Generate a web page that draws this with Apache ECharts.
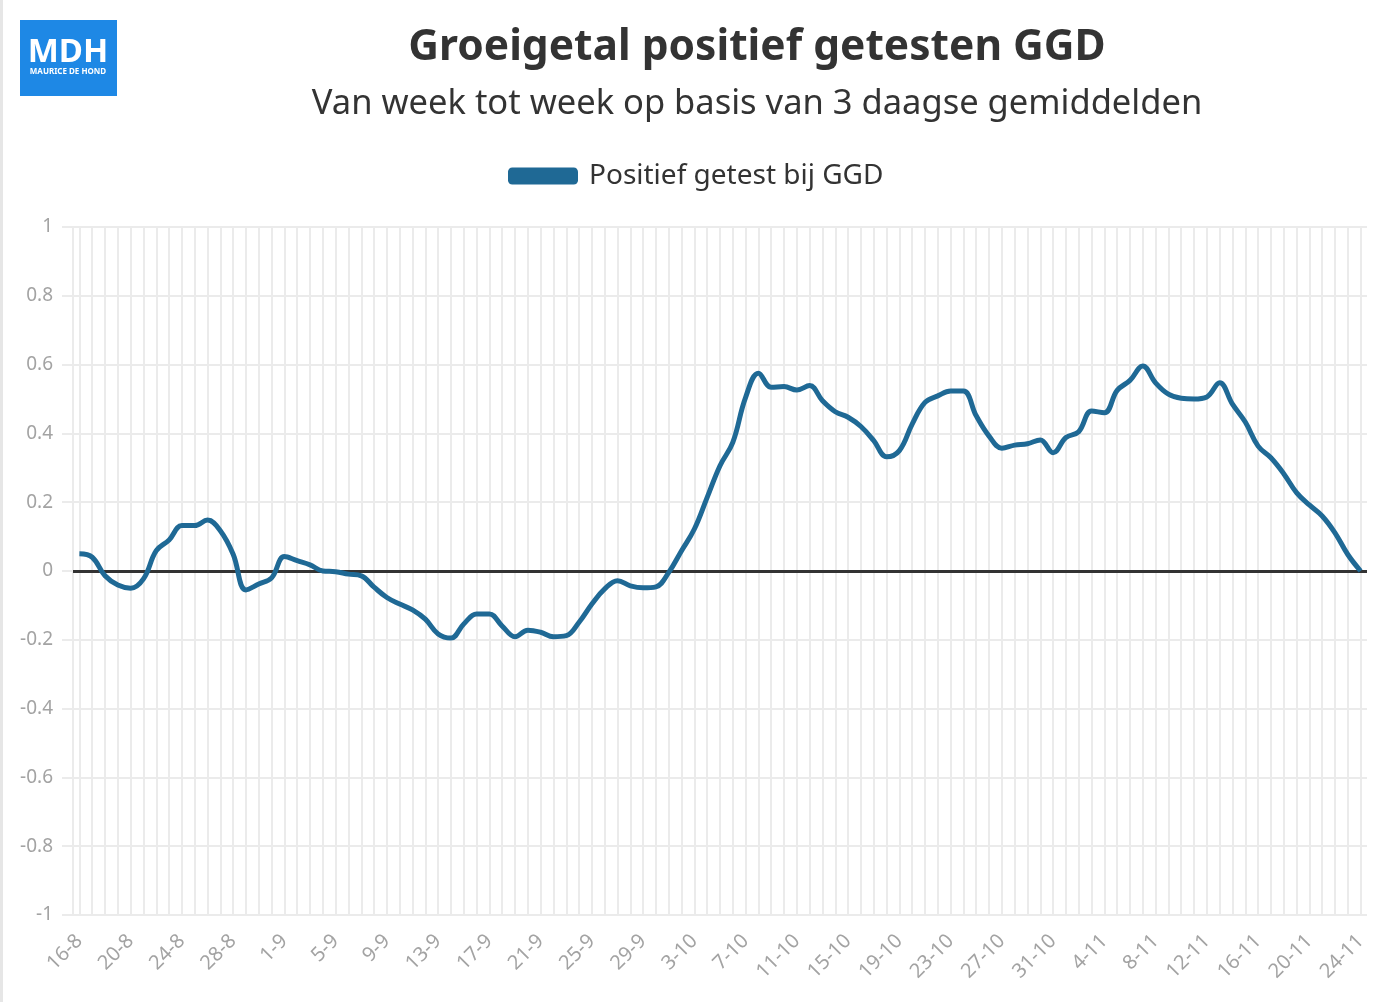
<!DOCTYPE html>
<html>
<head>
<meta charset="utf-8">
<script src="https://cdn.jsdelivr.net/npm/echarts@6/dist/echarts.min.js"></script>
<style>
  html, body { margin: 0; padding: 0; background: #fff; }
  #main { width: 1400px; height: 1002px; }
</style>
</head>
<body>
<div id="main"></div>
<script>
var days = [
  '16-8','17-8','18-8','19-8','20-8','21-8','22-8','23-8','24-8','25-8','26-8','27-8','28-8','29-8','30-8','31-8',
  '1-9','2-9','3-9','4-9','5-9','6-9','7-9','8-9','9-9','10-9','11-9','12-9','13-9','14-9','15-9','16-9','17-9','18-9','19-9','20-9',
  '21-9','22-9','23-9','24-9','25-9','26-9','27-9','28-9','29-9','30-9',
  '1-10','2-10','3-10','4-10','5-10','6-10','7-10','8-10','9-10','10-10','11-10','12-10','13-10','14-10','15-10','16-10',
  '17-10','18-10','19-10','20-10','21-10','22-10','23-10','24-10','25-10','26-10','27-10','28-10','29-10','30-10','31-10',
  '1-11','2-11','3-11','4-11','5-11','6-11','7-11','8-11','9-11','10-11','11-11','12-11','13-11','14-11','15-11','16-11',
  '17-11','18-11','19-11','20-11','21-11','22-11','23-11','24-11'
];

var groeigetal = [
  0.05, 0.04, -0.014, -0.041, -0.05, -0.023, 0.059, 0.09, 0.132, 0.132,
  0.148, 0.117, 0.049, -0.055, -0.038, -0.02, 0.042, 0.03, 0.018, 0.0,
  -0.002, -0.009, -0.014, -0.047, -0.077, -0.096, -0.113, -0.14, -0.183, -0.195,
  -0.154, -0.125, -0.125, -0.16, -0.191, -0.172, -0.178, -0.191, -0.188, -0.149,
  -0.096, -0.052, -0.028, -0.043, -0.049, -0.046, -0.004, 0.059, 0.122, 0.214,
  0.306, 0.374, 0.505, 0.575, 0.534, 0.536, 0.526, 0.539, 0.495, 0.463,
  0.447, 0.42, 0.379, 0.332, 0.35, 0.427, 0.49, 0.509, 0.523, 0.523,
  0.451, 0.392, 0.357, 0.366, 0.37, 0.381, 0.344, 0.388, 0.405, 0.465,
  0.46, 0.525, 0.554, 0.596, 0.547, 0.514, 0.502, 0.5, 0.506, 0.547,
  0.485, 0.433, 0.363, 0.329, 0.283, 0.228, 0.192, 0.16, 0.111, 0.048,
  0.0
];

var seriesName = 'Positief getest bij GGD';
var lineColor = '#1f6995';
var gridColor = '#ebebeb';
var labelColor = '#a3a3a3';
var font = 'Noto Sans';

var myChart = echarts.init(document.getElementById('main'));
var option = {
  backgroundColor: '#ffffff',
  animation: false,
  textStyle: { fontFamily: font },

  title: [{
    text: 'Groeigetal positief getesten GGD',
    left: 757,
    top: 26,
    padding: 0,
    textAlign: 'center',
    textStyle: { fontFamily: font, fontSize: 42.5, fontWeight: 'bold', color: '#333333' }
  }, {
    text: 'Van week tot week op basis van 3 daagse gemiddelden',
    left: 757,
    top: 87,
    padding: 0,
    textAlign: 'center',
    textStyle: { fontFamily: font, fontSize: 34.5, fontWeight: 'normal', color: '#333333' }
  }],

  legend: {
    left: 508,
    top: 162,
    padding: 0,
    icon: 'roundRect',
    itemWidth: 70,
    itemHeight: 17,
    textStyle: { fontFamily: font, fontSize: 28, color: '#333333', padding: [0, 0, 0, 6] },
    data: [seriesName]
  },

  graphic: [
    { type: 'rect', shape: { x: 0, y: 0, width: 3, height: 1002 }, style: { fill: '#e6e6e6' }, silent: true },
    { type: 'rect', shape: { x: 20, y: 20, width: 97, height: 76 }, style: { fill: '#1e88e5' }, silent: true },
    { type: 'text', x: 68, y: 53, style: { text: 'MDH', fill: '#ffffff', font: 'bold 33px "Noto Sans"', align: 'center', verticalAlign: 'middle' }, silent: true },
    { type: 'text', x: 68, y: 72, style: { text: 'MAURICE DE HOND', fill: '#ffffff', font: 'bold 8px "Noto Sans"', align: 'center', verticalAlign: 'middle' }, silent: true }
  ],

  grid: {
    left: 73,
    right: 33,
    top: 227,
    bottom: 87
  },

  xAxis: {
    type: 'category',
    data: days,
    boundaryGap: true,
    axisLine: { show: false },
    axisTick: {
      show: true,
      alignWithLabel: true,
      interval: 0,
      length: 12,
      lineStyle: { color: gridColor, width: 2 }
    },
    splitLine: {
      show: true,
      alignWithLabel: true,
      interval: 0,
      lineStyle: { color: gridColor, width: 2 }
    },
    axisLabel: {
      interval: 3,
      rotate: 45,
      margin: 23,
      color: labelColor,
      fontSize: 20,
      fontFamily: font
    }
  },

  yAxis: {
    type: 'value',
    min: -1,
    max: 1,
    interval: 0.2,
    axisLine: { show: true, lineStyle: { color: gridColor, width: 2 } },
    axisTick: { show: true, length: 11, lineStyle: { color: gridColor, width: 2 } },
    splitLine: { show: true, lineStyle: { color: gridColor, width: 2 } },
    axisLabel: {
      margin: 20,
      color: labelColor,
      fontSize: 19,
      fontFamily: font,
      formatter: function (v) { return String(Math.round(v * 10) / 10); }
    }
  },

  series: [{
    name: seriesName,
    type: 'line',
    data: groeigetal,
    smooth: 0.4,
    symbol: 'none',
    lineStyle: { color: lineColor, width: 5 },
    itemStyle: { color: lineColor },
    z: 3,
    markLine: {
      silent: true,
      symbol: 'none',
      label: { show: false },
      lineStyle: { color: '#333333', width: 3, type: 'solid' },
      data: [{ yAxis: 0 }],
      z: 2
    }
  }]
};

myChart.setOption(option);
</script>
</body>
</html>
